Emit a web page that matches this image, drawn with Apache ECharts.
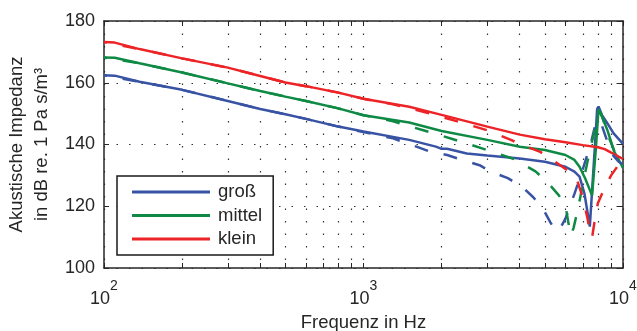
<!DOCTYPE html>
<html>
<head>
<meta charset="utf-8">
<script src="https://cdn.jsdelivr.net/npm/echarts@6/dist/echarts.min.js"></script>
<style>
  html, body {margin: 0; padding: 0; background: #fff;}
  #chart {width: 637px; height: 331px;}
</style>
</head>
<body>
<div id="chart"></div>
<script>
// Frequenz (Hz) und Impedanz (dB) je Kurve
const freqBlue = [100, 110, 137, 200, 300, 400, 500, 600, 800, 1000, 1500, 1900, 2000, 2100, 2500, 3000, 4000, 5000, 6000, 6500, 6800, 7100, 7300, 7450, 7600, 7800, 7950, 8050, 8300, 8700, 9200, 10000];
const blueSolid = [162.4, 162.3, 160.3, 157.7, 154.1, 151.5, 149.8, 148.3, 145.8, 144.2, 141.5, 139.3, 138.6, 138.6, 137.1, 136.4, 135.5, 134.4, 132.8, 131.2, 129.6, 124.2, 118, 113.4, 125, 140, 151.5, 152.3, 149.5, 146.9, 143.6, 140.2];

const freqBlueDash = [100, 137, 200, 300, 400, 500, 600, 800, 1000, 1300, 1600, 1800, 2100, 2400, 2800, 3100, 3600, 4100, 4500, 4900, 5250, 5500, 5700, 6000, 6500, 7000, 7500, 7800, 8000, 8300, 8700, 9200, 9600, 10000];
const blueDashed = [162.4, 160.3, 157.7, 154.1, 151.5, 149.8, 148.3, 145.8, 144, 142, 139.3, 137.7, 136.6, 135, 133.3, 131.2, 129.1, 126.2, 123, 119.4, 114.8, 112, 112.5, 116, 124, 132, 140, 146, 148, 146, 141, 136.3, 134.5, 133.5];

const freqGreen = [100, 110, 137, 200, 300, 400, 500, 600, 800, 1000, 1500, 2000, 3000, 4000, 5000, 6000, 6500, 6800, 7150, 7450, 7600, 7850, 8050, 8150, 8400, 8700, 9250, 10000];
const greenSolid = [168.2, 168.1, 166.3, 163.3, 159.8, 157.3, 155.5, 154.1, 151.7, 149.5, 147.1, 144.4, 141.5, 139.3, 138.2, 136.6, 135, 132.8, 129, 125.3, 123.5, 138, 151.5, 152, 148, 144.7, 137.7, 132.5];

const freqGreenDash = [100, 137, 200, 300, 400, 500, 600, 800, 1000, 1300, 1700, 2200, 2900, 3800, 4600, 5100, 5650, 6000, 6150, 6300, 6450, 6700, 7000, 7400, 7700, 8000, 8200, 8500, 8800, 9300, 10000];
const greenDashed = [168.2, 166.3, 163.3, 159.8, 157.3, 155.5, 154.1, 151.7, 149.5, 147.5, 144.6, 141.8, 138.6, 135.3, 131.3, 127.9, 123.6, 120.3, 115, 110.5, 113, 119, 127, 137, 143, 149.5, 150.5, 146.5, 142.5, 137.5, 132.5];

const freqRed = [100, 110, 137, 200, 300, 400, 500, 600, 800, 1000, 1500, 2000, 3000, 4000, 5000, 6000, 7000, 8000, 8500, 9000, 9500, 10000];
const redSolid = [173.2, 173, 170.9, 167.9, 164.9, 162.2, 160.1, 158.9, 156.8, 154.8, 152.2, 149.6, 145.8, 143.2, 141.7, 140.7, 139.8, 139.1, 138.5, 137.4, 136.3, 135.3];

const freqRedDash = [100, 137, 200, 300, 400, 500, 600, 800, 1000, 1300, 1700, 2300, 3000, 3700, 4100, 4800, 5350, 6100, 6650, 7000, 7300, 7450, 7600, 7800, 8000, 8600, 9000, 9500, 10000];
const redDashed = [173.2, 170.9, 167.9, 164.9, 162.2, 160.1, 158.9, 156.8, 154.8, 153, 150.6, 147.5, 144.6, 141.5, 139.8, 137.6, 135, 131.7, 128.5, 122.8, 116, 112, 109.8, 116, 121, 127, 130, 132.8, 134.5];

const names = ['groß', 'mittel', 'klein'];
const colors = ['#3953a4', '#0e8a45', '#ed2427'];

const xTicks = [100, 200, 300, 400, 500, 600, 700, 800, 900, 1000, 2000, 3000, 4000, 5000, 6000, 7000, 8000, 9000, 10000];
const xLabels = [100, 1000, 10000];
const yTicks = [100, 120, 140, 160, 180];

const pairs = (f, v) => f.map((x, i) => [x, v[i]]);

const chart = echarts.init(document.getElementById('chart'));
const txt = '#262626';
const font = 'Liberation Sans, Arial, Helvetica, sans-serif';
const dots = {color: '#333', width: 1.2, type: [1.5, 11]};
const axLine = {show: true, onZero: false, lineStyle: {color: txt, width: 1.5}};
const tick = {show: true, inside: true, length: 5, lineStyle: {color: txt, width: 1}};

const solid = (name, f, v, c) => ({
    name, type: 'line', data: pairs(f, v), symbol: 'none', z: 3,
    lineStyle: {color: c, width: 2.5}, itemStyle: {color: c}
});
const dashed = (name, f, v, c) => ({
    name: name + ' (gestrichelt)', type: 'line', data: pairs(f, v), symbol: 'none', z: 4,
    lineStyle: {color: c, width: 2.5, type: [14, 16], dashOffset: 11}, itemStyle: {color: c}
});

chart.setOption({
    animation: false,
    textStyle: {fontFamily: font},
    grid: {left: 104, right: 14, top: 21, bottom: 63, containLabel: false, outerBoundsMode: 'none'},
    legend: {
        data: names.map(n => ({name: n, icon: 'rect'})),
        orient: 'vertical', left: 117, top: 176,
        itemWidth: 78, itemHeight: 3, itemGap: 3.5,
        padding: [6, 11, 6, 15],
        backgroundColor: '#fff', borderColor: '#1a1a1a', borderWidth: 1.5, borderRadius: 0,
        textStyle: {fontSize: 18.5, color: txt, lineHeight: 20, padding: [0, 0, 0, 3], fontFamily: font}
    },
    xAxis: [{
        type: 'log', logBase: 10, min: 100, max: 10000,
        position: 'bottom',
        name: 'Frequenz in Hz', nameLocation: 'middle', nameGap: 41,
        nameTextStyle: {fontSize: 18.5, color: txt, lineHeight: 20, fontFamily: font},
        axisLine: axLine,
        axisTick: Object.assign({customValues: xTicks}, tick),
        minorTick: {show: false},
        axisLabel: {
            customValues: xLabels, margin: 11, color: txt,
            formatter: v => '{b|10}{s|' + Math.round(Math.log10(v)) + '}',
            rich: {
                b: {fontSize: 18, color: txt, fontFamily: font},
                s: {fontSize: 14, color: txt, fontFamily: font, padding: [0, 0, 27, 0]}
            }
        },
        splitLine: {show: true, lineStyle: dots}
    }, {
        type: 'log', logBase: 10, min: 100, max: 10000,
        position: 'top',
        axisLine: axLine,
        axisTick: Object.assign({customValues: xTicks}, tick),
        axisLabel: {show: false},
        splitLine: {show: false}
    }],
    yAxis: [{
        type: 'value', min: 100, max: 180, interval: 20,
        name: 'Akustische Impedanz\nin dB re. 1 Pa s/m³', nameLocation: 'middle', nameGap: 48, nameRotate: 90,
        nameTextStyle: {fontSize: 18.5, color: txt, lineHeight: 25, fontFamily: font},
        axisLine: axLine,
        axisTick: Object.assign({customValues: yTicks}, tick),
        axisLabel: {fontSize: 18, color: txt, margin: 9, fontFamily: font},
        splitLine: {show: true, lineStyle: dots}
    }, {
        type: 'value', min: 100, max: 180, interval: 20,
        position: 'right',
        axisLine: axLine,
        axisTick: tick,
        axisLabel: {show: false},
        splitLine: {show: false}
    }],
    series: [
        solid(names[0], freqBlue, blueSolid, colors[0]),
        solid(names[1], freqGreen, greenSolid, colors[1]),
        solid(names[2], freqRed, redSolid, colors[2]),
        dashed(names[0], freqBlueDash, blueDashed, colors[0]),
        dashed(names[1], freqGreenDash, greenDashed, colors[1]),
        dashed(names[2], freqRedDash, redDashed, colors[2])
    ]
});
</script>
</body>
</html>
